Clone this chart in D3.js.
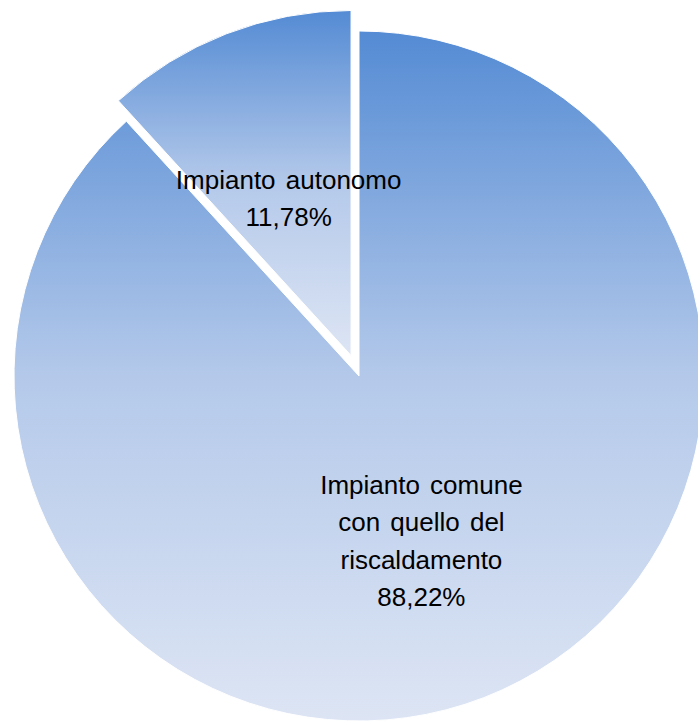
<!DOCTYPE html>
<html>
<head>
<meta charset="utf-8">
<script src="https://cdn.jsdelivr.net/npm/d3@7"></script>
<style>
  body { margin: 0; background: #fff; }
  svg { display: block; }
</style>
</head>
<body>
<svg id="chart"></svg>
<script>
// data
const categories = ["Impianto comune con quello del riscaldamento", "Impianto autonomo"]
const values = [88.22, 11.78]
const labelLines = [
  ["Impianto comune", "con quello del", "riscaldamento", "88,22%"],
  ["Impianto autonomo", "11,78%"]
]
const exploded = [0, 22]

const width = 698,
  height = 722
const cx = 359,
  cy = 376,
  radius = 345

const svg = d3.select("#chart").attr("width", width).attr("height", height)

const defs = svg.append("defs")
const grad = defs
  .append("linearGradient")
  .attr("id", "sliceFill")
  .attr("x1", 0)
  .attr("y1", 0)
  .attr("x2", 0)
  .attr("y2", 1)
grad.append("stop").attr("offset", "0%").attr("stop-color", "#548bd4")
grad.append("stop").attr("offset", "50%").attr("stop-color", "#b4c9ea")
grad.append("stop").attr("offset", "100%").attr("stop-color", "#dde5f4")

const pie = d3.pie().sort(null).value(d => d)
const arcs = pie(values)

const arc = d3.arc().innerRadius(0).outerRadius(radius)
const labelArc = d3.arc().innerRadius(radius * 0.5).outerRadius(radius * 0.5)

const g = svg.append("g").attr("transform", `translate(${cx},${cy})`)

const slices = g
  .selectAll("g.slice")
  .data(arcs)
  .join("g")
  .attr("class", "slice")
  .attr("transform", (d, i) => {
    const mid = (d.startAngle + d.endAngle) / 2
    const off = exploded[i]
    return `translate(${Math.sin(mid) * off},${-Math.cos(mid) * off})`
  })

slices
  .append("path")
  .attr("d", arc)
  .attr("fill", "url(#sliceFill)")
  .attr("stroke", "#fff")
  .attr("stroke-width", 1)

const lineH = 37.5
slices.each(function(d, i) {
  const [lx, ly] = labelArc.centroid(d)
  const lines = labelLines[i]
  const t = d3
    .select(this)
    .append("text")
    .attr("text-anchor", "middle")
    .style("font-family", "'Liberation Sans', Arial, sans-serif")
    .style("font-size", "26px")
    .style("word-spacing", "3px")
    .attr("fill", "#000")
  const top = ly - ((lines.length - 1) * lineH) / 2 + 13
  lines.forEach((s, k) => {
    t.append("tspan")
      .attr("x", lx)
      .attr("y", top + k * lineH)
      .text(s)
  })
})
</script>
</body>
</html>
